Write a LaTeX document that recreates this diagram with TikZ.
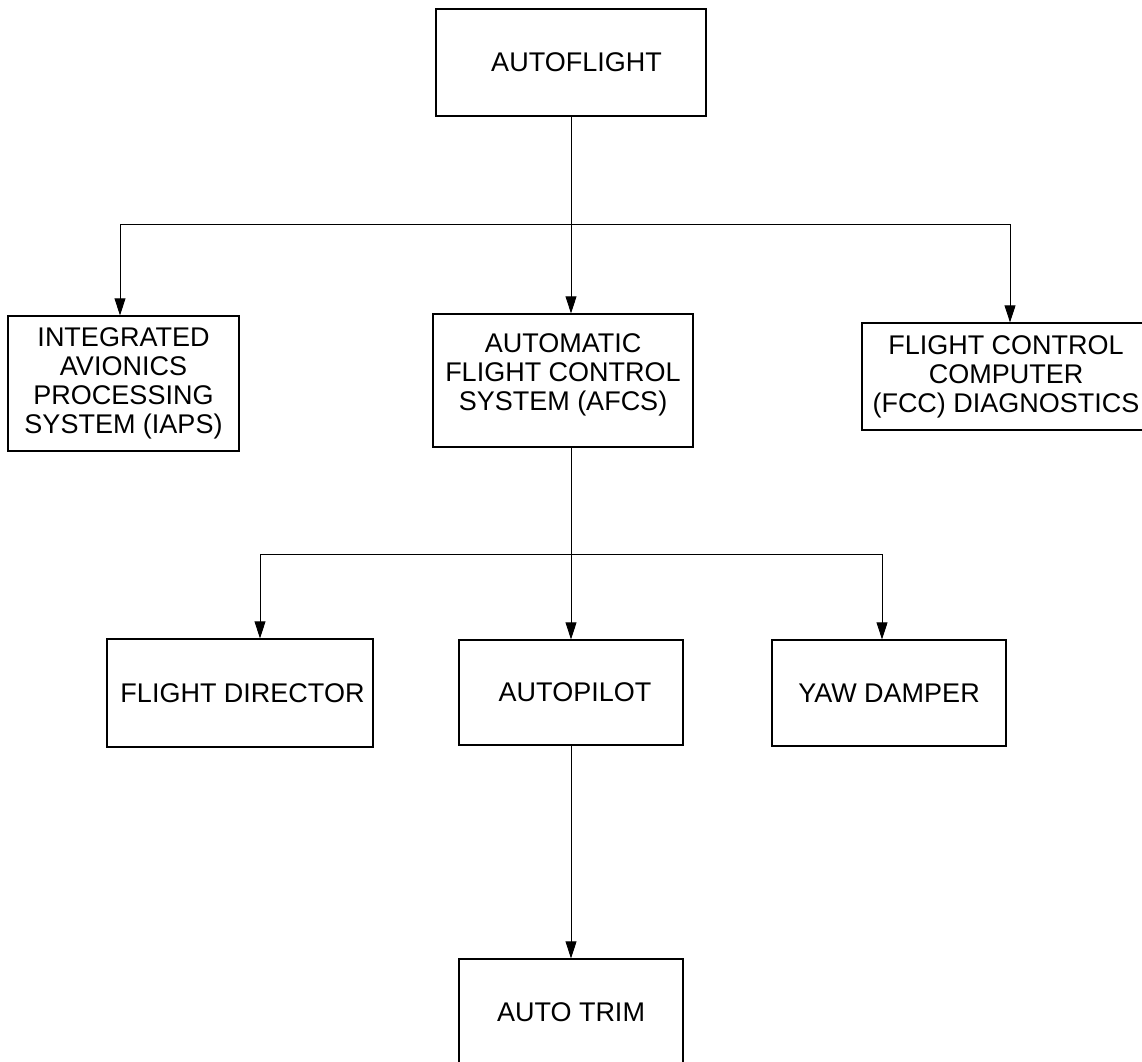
\documentclass[tikz,border=0pt]{standalone}
\usepackage{fontspec}
\setmainfont{Liberation Sans}
\usetikzlibrary{arrows.meta}

\begin{document}
\begin{tikzpicture}[
    x=1pt,y=-1pt,
    >={Triangle[length=17pt,width=11pt]},
    unit/.style={draw=black,line width=1.3pt,inner sep=0pt,align=center,
        font={\fontsize{27}{29}\selectfont}},
    link/.style={->,draw=black,line width=0.8pt},
    ]

    \useasboundingbox (0,0) rectangle (1142,1061);
    \clip (0,0) rectangle (1142,1061);

    % top level
    \node[unit,minimum width=270,minimum height=107] (autoflight) at (571,62.5) {\hspace{11pt}AUTOFLIGHT};

    % second level
    \node[unit,minimum width=231,minimum height=135] (iaps) at (123.5,383.5)
        {INTEGRATED\\AVIONICS\\PROCESSING\\SYSTEM (IAPS)};
    \node[unit,minimum width=260,minimum height=133] (afcs) at (563,380.5)
        {AUTOMATIC\\FLIGHT CONTROL\\SYSTEM (AFCS)\\[-13pt]\mbox{}};
    \node[unit,minimum width=288,minimum height=107] (fcc) at (1006,376.5)
        {FLIGHT CONTROL\\COMPUTER\\(FCC) DIAGNOSTICS};

    % third level
    \node[unit,minimum width=266,minimum height=108] (fd) at (240,693) {\hspace{5pt}FLIGHT DIRECTOR};
    \node[unit,minimum width=224,minimum height=105] (autopilot) at (571,692.5) {\hspace{8pt}AUTOPILOT};
    \node[unit,minimum width=234,minimum height=106] (yaw) at (889,693) {YAW DAMPER};

    % bottom
    \node[unit,minimum width=224,minimum height=106] (trim) at (571,1012) {AUTO TRIM};

    % branch points
    \coordinate (bus1) at (571,224);
    \coordinate (bus2) at (571,554);

    % connectors
    \draw[link] (autoflight) -- (autoflight |- afcs.north);
    \draw[link] (bus1) -| ([xshift=-3.5]iaps.north);
    \draw[link] (bus1) -| ([xshift=4]fcc.north);

    \draw[link] (afcs.south -| autopilot) -- (autopilot.north);
    \draw[link] (bus2) -| ([xshift=20]fd.north);
    \draw[link] (bus2) -| ([xshift=-7]yaw.north);

    \draw[link] (autopilot) -- (trim);

\end{tikzpicture}
\end{document}
